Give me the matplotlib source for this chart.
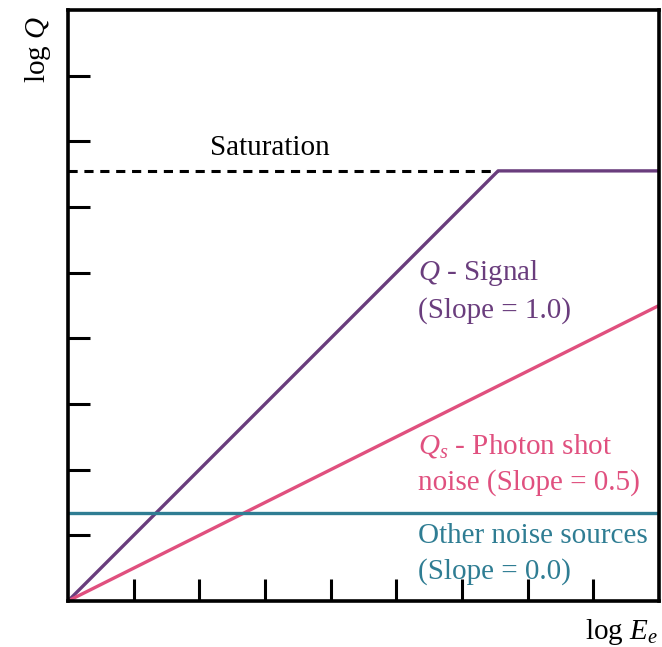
import matplotlib
matplotlib.use("Agg")
import matplotlib.pyplot as plt
import numpy as np

plt.rcParams['font.family'] = ['Liberation Serif', 'DejaVu Serif']
plt.rcParams['mathtext.fontset'] = 'custom'
plt.rcParams['mathtext.rm'] = 'Liberation Serif'
plt.rcParams['mathtext.it'] = 'Liberation Serif:italic'

# data (log units)
x_max = 9.0
saturation = 6.55
noise_floor = 1.34
signal_slope = 1.0
shot_slope = 0.5
ticks = [1, 2, 3, 4, 5, 6, 7, 8]

purple = '#6a3d7d'
pink = '#e0507f'
teal = '#2f7d93'

x_sat = saturation / signal_slope
sig_x = [0, x_sat, x_max]
sig_y = [0, saturation, saturation]
shot_x = [0, x_max]
shot_y = [0, shot_slope * x_max]

fig = plt.figure(figsize=(6.62, 6.47), dpi=100)
ax = fig.add_axes([68 / 662, 46 / 647, 591 / 662, 591 / 647])

ax.plot([0, x_sat], [saturation, saturation], color='black', lw=2.2, ls=(0, (3, 2.2)))
ax.plot(sig_x, sig_y, color=purple, lw=2.4, solid_capstyle='butt')
ax.plot(shot_x, shot_y, color=pink, lw=2.4)
ax.plot([0, x_max], [noise_floor, noise_floor], color=teal, lw=2.4)

ax.set_xlim(0, x_max)
ax.set_ylim(0, x_max)
ax.set_xticks(ticks)
ax.set_yticks(ticks)
ax.set_xticklabels([])
ax.set_yticklabels([])
ax.tick_params(direction='in', length=16, width=2.2, color='black')
for s in ax.spines.values():
    s.set_linewidth(2.6)

fs = 21
ls = 1.45
ax.text(2.16, 6.9, 'Saturation', fontsize=fs, va='center', ha='left')
ax.text(5.33, 4.72, '$Q$ - Signal\n(Slope = 1.0)', fontsize=fs, color=purple,
        va='center', ha='left', linespacing=ls)
ax.text(5.33, 2.09, '$Q_s$ - Photon shot\nnoise (Slope = 0.5)', fontsize=fs, color=pink,
        va='center', ha='left', linespacing=ls)
ax.text(5.33, 0.72, 'Other noise sources\n(Slope = 0.0)', fontsize=fs, color=teal,
        va='center', ha='left', linespacing=ls)

fig.text(38 / 662, 1 - 50 / 647, 'log $Q$', fontsize=fs, rotation=90, ha='center', va='center')
fig.text(585 / 662, 1 - 632 / 647, 'log $E_e$', fontsize=fs, ha='left', va='center')

fig.savefig('out.png', dpi=100)
